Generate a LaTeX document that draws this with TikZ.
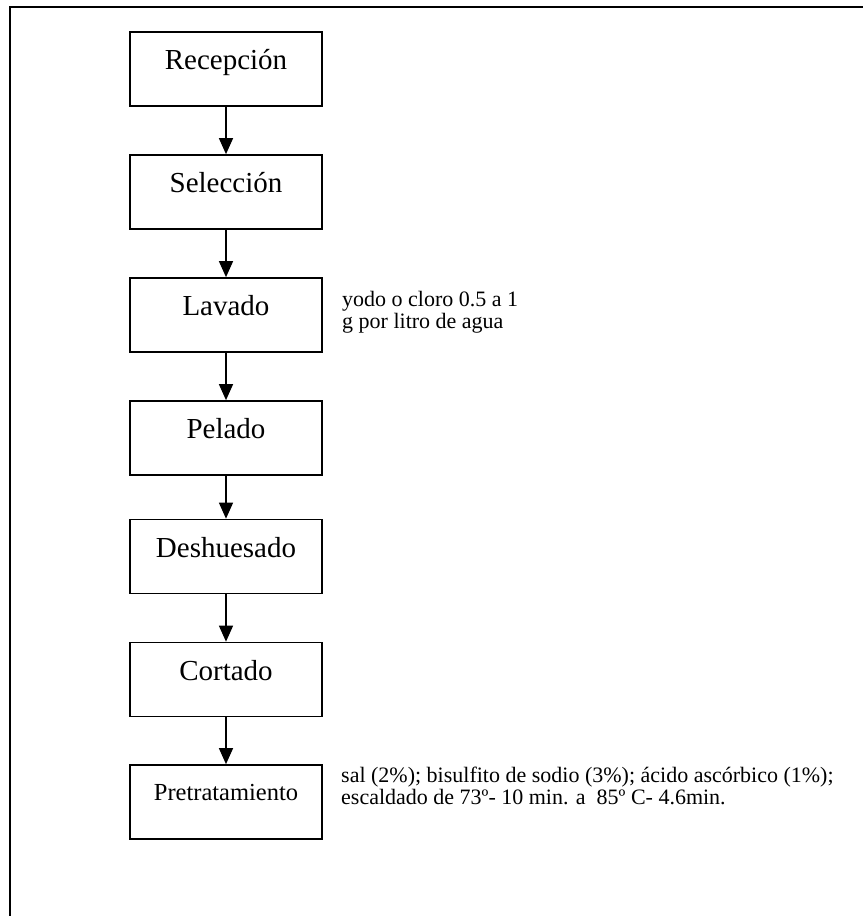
\documentclass[tikz,border=0pt]{standalone}
\usepackage{fontspec}
\setmainfont{Liberation Serif}
\usetikzlibrary{arrows.meta}
\begin{document}
\begin{tikzpicture}[x=1pt,y=-1pt,
  stage/.style={draw, line width=1.7pt, inner xsep=0pt, inner ysep=0pt,
    minimum width=192pt, text height=37.5pt, text depth=36.5pt,
    font=\fontsize{29}{33}\selectfont},
  flow/.style={line width=1.4pt, -{Triangle[length=16pt,width=14pt]}},
  note/.style={anchor=north west, inner sep=0pt, align=left,
    font=\fontsize{22}{22.5}\selectfont}]
\useasboundingbox (0,0) rectangle (863,916);
\draw[line width=2pt] (10,916) -- (10,7) -- (863,7);

\node[stage] (rec) at (226,69) {Recepción};
\node[stage] (sel) at (226,192) {Selección};
\node[stage] (lav) at (226,315) {Lavado};
\node[stage] (pel) at (226,438) {Pelado};
\node[stage] (des) at (226,556.5) {Deshuesado};
\node[stage] (cor) at (226,679.5) {Cortado};
\node[stage, text height=35pt, text depth=39pt, font=\fontsize{24.5}{28}\selectfont] (pre) at (226,802) {Pretratamiento};

\draw[flow] (rec) -- (sel);
\draw[flow] (sel) -- (lav);
\draw[flow] (lav) -- (pel);
\draw[flow] (pel) -- (des);
\draw[flow] (des) -- (cor);
\draw[flow] (cor) -- (pre);

\node[note] (n1) at (342,290.5) {\rule{0pt}{15.5pt}yodo o cloro 0.5 a 1\\g por litro de agua};
\node[note] (n2) at (341,766.5) {\rule{0pt}{15.5pt}sal (2\%); bisulfito de sodio (3\%); ácido ascórbico (1\%);\\escaldado de 73º- 10 min. a\ \ 85º C- 4.6min.};
\end{tikzpicture}
\end{document}
